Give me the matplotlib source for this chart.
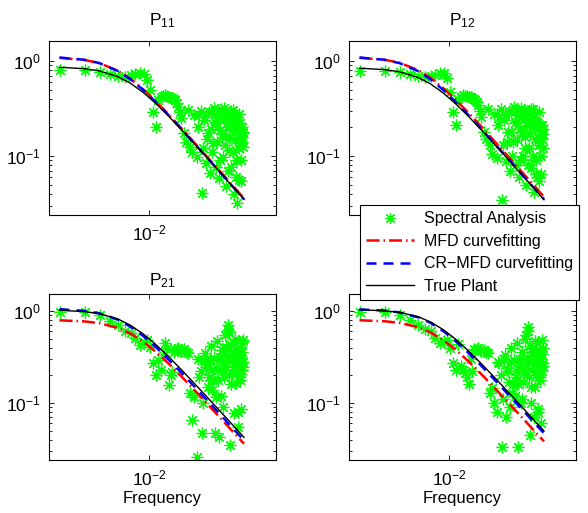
import matplotlib
matplotlib.use('Agg')
import matplotlib.pyplot as plt
from matplotlib.lines import Line2D
from matplotlib.ticker import NullLocator, NullFormatter, FixedLocator, LogLocator

plt.rcParams['font.family'] = ['Liberation Sans', 'DejaVu Sans']
plt.rcParams['mathtext.fontset'] = 'custom'
plt.rcParams['mathtext.rm'] = 'Liberation Sans'
plt.rcParams['mathtext.it'] = 'Liberation Sans:italic'
plt.rcParams['mathtext.bf'] = 'Liberation Sans:bold'
plt.rcParams['mathtext.sf'] = 'Liberation Sans'

# ---------------- data ----------------
titles = ['P$_{11}$', 'P$_{12}$', 'P$_{21}$', 'P$_{22}$']
legend_labels = ['Spectral Analysis', 'MFD curvefitting', 'CR\u2212MFD curvefitting', 'True Plant']
xlabel_text = 'Frequency'

freq_sa = [0.00085, 0.0017, 0.00255, 0.0034, 0.00425, 0.0051, 0.00595, 0.0068, 0.00765, 0.0085,
           0.00935, 0.0102, 0.01105, 0.0119, 0.01275, 0.0136, 0.0153, 0.017, 0.0187, 0.0204,
           0.0221, 0.0238, 0.0255, 0.0272, 0.0289, 0.0306, 0.0323, 0.034, 0.03655, 0.0391,
           0.04165, 0.0442, 0.04675, 0.0493, 0.05185, 0.0544, 0.05695, 0.0595, 0.06205, 0.0646,
           0.06715, 0.0697, 0.07225, 0.0748, 0.07735, 0.0799, 0.08245, 0.085, 0.08755, 0.0901,
           0.09265, 0.0952, 0.09775, 0.1003, 0.10285, 0.1054, 0.10795, 0.1105, 0.11305, 0.1156,
           0.11815, 0.1207, 0.12325, 0.1258, 0.12835, 0.1309,
           0.01445, 0.01615, 0.01785, 0.01955, 0.02125, 0.02295,
           0.03825, 0.0408, 0.04335, 0.0459, 0.04845, 0.051, 0.05355, 0.0561, 0.05865, 0.0612,
           0.06375, 0.0663, 0.06885, 0.0714, 0.07395, 0.0765, 0.07905, 0.0816, 0.08415, 0.0867,
           0.08925, 0.0918, 0.09435, 0.0969, 0.09945, 0.102, 0.10455, 0.1071, 0.10965, 0.1122,
           0.11475, 0.1173, 0.11985, 0.1224, 0.12495, 0.1275, 0.13005]

sa_11 = [0.80, 0.80, 0.77, 0.73, 0.695, 0.684, 0.706, 0.73, 0.75, 0.73, 0.63, 0.49, 0.29, 0.20, 0.39, 0.415,
         0.44, 0.42, 0.405, 0.39, 0.33, 0.25, 0.173, 0.142, 0.305, 0.125, 0.111, 0.27,
         0.098, 0.27, 0.041, 0.24, 0.084, 0.173, 0.066, 0.293, 0.136, 0.23, 0.077, 0.28, 0.059, 0.188,
         0.26, 0.098, 0.318, 0.16, 0.048, 0.24, 0.116, 0.28, 0.077, 0.204, 0.305, 0.040, 0.147, 0.24,
         0.091, 0.032, 0.188, 0.056, 0.136, 0.221, 0.054, 0.16, 0.125, 0.173,
         0.43, 0.43, 0.41, 0.40, 0.36, 0.29,
         0.20, 0.30, 0.12, 0.26, 0.15, 0.29, 0.19, 0.11, 0.32, 0.22, 0.14, 0.26, 0.09, 0.31, 0.17, 0.24,
         0.13, 0.28, 0.20, 0.07, 0.26, 0.16, 0.30, 0.21, 0.11, 0.25, 0.18, 0.06, 0.22, 0.15, 0.28, 0.12,
         0.19, 0.09, 0.20, 0.14, 0.18]
sa_12 = [0.79, 0.78, 0.76, 0.73, 0.70, 0.68, 0.70, 0.72, 0.74, 0.75, 0.66, 0.47, 0.29, 0.21, 0.40, 0.42,
         0.43, 0.42, 0.41, 0.39, 0.34, 0.26, 0.18, 0.15, 0.31, 0.13, 0.105, 0.28,
         0.095, 0.26, 0.034, 0.24, 0.088, 0.18, 0.07, 0.29, 0.14, 0.22, 0.08, 0.30, 0.06, 0.19,
         0.26, 0.10, 0.30, 0.16, 0.05, 0.23, 0.12, 0.27, 0.075, 0.20, 0.31, 0.042, 0.15, 0.23,
         0.09, 0.06, 0.19, 0.055, 0.14, 0.21, 0.065, 0.17, 0.12, 0.17,
         0.44, 0.43, 0.42, 0.40, 0.37, 0.30,
         0.21, 0.31, 0.13, 0.27, 0.14, 0.30, 0.18, 0.10, 0.33, 0.23, 0.15, 0.27, 0.09, 0.32, 0.18, 0.25,
         0.12, 0.29, 0.21, 0.08, 0.27, 0.17, 0.31, 0.22, 0.10, 0.26, 0.19, 0.065, 0.23, 0.16, 0.29, 0.13,
         0.20, 0.10, 0.21, 0.15, 0.19]
sa_21 = [0.967, 0.983, 0.905, 0.785, 0.705, 0.611, 0.58, 0.505, 0.427, 0.464, 0.484, 0.403, 0.27, 0.201, 0.293, 0.228,
         0.445, 0.157, 0.219, 0.377, 0.393, 0.37, 0.383, 0.36, 0.347, 0.127, 0.065, 0.117,
         0.026, 0.193, 0.047, 0.293, 0.249, 0.15, 0.293, 0.228, 0.178, 0.047, 0.117, 0.228, 0.043, 0.319,
         0.377, 0.091, 0.193, 0.249, 0.41, 0.705, 0.596, 0.035, 0.293, 0.21, 0.347, 0.077, 0.228, 0.445,
         0.164, 0.319, 0.055, 0.41, 0.178, 0.293, 0.087, 0.464, 0.249, 0.484,
         0.33, 0.40, 0.20, 0.36, 0.39, 0.38,
         0.30, 0.22, 0.10, 0.35, 0.26, 0.19, 0.42, 0.14, 0.31, 0.24, 0.47, 0.18, 0.29, 0.12, 0.38, 0.22,
         0.55, 0.27, 0.33, 0.62, 0.20, 0.44, 0.16, 0.30, 0.37, 0.25, 0.50, 0.21, 0.34, 0.08, 0.27, 0.40,
         0.19, 0.31, 0.23, 0.36, 0.28]
sa_22 = [0.98, 0.98, 0.90, 0.80, 0.71, 0.63, 0.60, 0.51, 0.45, 0.47, 0.48, 0.40, 0.27, 0.23, 0.44, 0.25,
         0.21, 0.16, 0.22, 0.38, 0.40, 0.37, 0.38, 0.36, 0.35, 0.13, 0.145, 0.10,
         0.08, 0.27, 0.033, 0.30, 0.07, 0.22, 0.09, 0.28, 0.16, 0.12, 0.19, 0.033, 0.25, 0.30,
         0.11, 0.17, 0.23, 0.23, 0.55, 0.67, 0.28, 0.045, 0.10, 0.33, 0.40, 0.07, 0.24, 0.15,
         0.30, 0.45, 0.085, 0.35, 0.19, 0.28, 0.06, 0.48, 0.25, 0.40,
         0.23, 0.19, 0.30, 0.39, 0.39, 0.38,
         0.28, 0.20, 0.11, 0.33, 0.24, 0.17, 0.40, 0.13, 0.29, 0.22, 0.45, 0.16, 0.27, 0.10, 0.36, 0.21,
         0.50, 0.26, 0.31, 0.60, 0.19, 0.42, 0.15, 0.28, 0.35, 0.24, 0.47, 0.20, 0.32, 0.08, 0.26, 0.38,
         0.18, 0.30, 0.22, 0.34, 0.27]

freq_fit = [0.00085, 0.0017, 0.00255, 0.00425, 0.00595, 0.0085, 0.0119, 0.017, 0.0238, 0.034,
            0.0476, 0.068, 0.0935, 0.13345]

true_11 = [0.859, 0.829, 0.785, 0.681, 0.582, 0.464, 0.357, 0.261, 0.191, 0.135, 0.0973, 0.0683, 0.0497, 0.0349]
crmfd_11 = [1.088, 1.029, 0.949, 0.781, 0.641, 0.492, 0.370, 0.267, 0.193, 0.136, 0.0977, 0.0686, 0.0499, 0.0350]
mfd_11 = [1.079, 1.024, 0.948, 0.786, 0.648, 0.500, 0.376, 0.272, 0.197, 0.139, 0.0998, 0.070, 0.0510, 0.0357]

true_12 = [0.840, 0.811, 0.770, 0.670, 0.574, 0.458, 0.353, 0.259, 0.189, 0.1343, 0.0965, 0.0678, 0.0494, 0.0346]
crmfd_12 = [1.088, 1.029, 0.949, 0.781, 0.641, 0.492, 0.370, 0.267, 0.193, 0.136, 0.0977, 0.0686, 0.0499, 0.0350]
mfd_12 = [1.081, 1.029, 0.957, 0.800, 0.664, 0.515, 0.389, 0.282, 0.205, 0.1445, 0.1037, 0.0727, 0.0529, 0.0371]

true_21 = [1.018, 0.984, 0.934, 0.815, 0.699, 0.559, 0.432, 0.317, 0.2315, 0.1642, 0.1180, 0.0829, 0.0604, 0.0423]
crmfd_21 = [1.045, 1.002, 0.942, 0.803, 0.676, 0.532, 0.406, 0.295, 0.215, 0.1521, 0.1092, 0.0766, 0.0558, 0.0391]
mfd_21 = [0.792, 0.770, 0.736, 0.653, 0.569, 0.462, 0.361, 0.267, 0.196, 0.1392, 0.1002, 0.0704, 0.0513, 0.0360]

true_22 = [1.031, 1.005, 0.966, 0.865, 0.760, 0.624, 0.491, 0.365, 0.269, 0.1917, 0.1381, 0.0971, 0.0707, 0.0496]
crmfd_22 = [1.039, 1.010, 0.965, 0.854, 0.742, 0.602, 0.470, 0.347, 0.255, 0.181, 0.1302, 0.0915, 0.0667, 0.0468]
mfd_22 = [0.793, 0.773, 0.743, 0.666, 0.585, 0.480, 0.378, 0.281, 0.207, 0.1474, 0.1062, 0.0747, 0.0544, 0.0382]

x_ticks = [1e-2]
y_ticks = [0.1, 1.0]

# ---------------- layout / style ----------------
W, H = 588, 513
fig = plt.figure(figsize=(W / 100, H / 100), dpi=100)

def fr(l, t, r, b):
    return [l / W, 1 - b / H, (r - l) / W, (b - t) / H]

panels = [
    dict(rect=fr(49, 41, 276, 215), ylim=(0.0239, 1.624), sa=sa_11, tr=true_11, cr=crmfd_11, mf=mfd_11, pad=11, xl=False),
    dict(rect=fr(349, 41, 576, 215), ylim=(0.0239, 1.624), sa=sa_12, tr=true_12, cr=crmfd_12, mf=mfd_12, pad=11, xl=False),
    dict(rect=fr(49, 294, 276, 460), ylim=(0.024, 1.53), sa=sa_21, tr=true_21, cr=crmfd_21, mf=mfd_21, pad=6, xl=True),
    dict(rect=fr(349, 294, 576, 460), ylim=(0.024, 1.53), sa=sa_22, tr=true_22, cr=crmfd_22, mf=mfd_22, pad=6, xl=True),
]

GREEN = (0, 1, 0)
star = (8, 2, 0)
MFD_DASH = [5.2, 1.6, 0.6, 1.6]
CR_DASH = [4.0, 2.8]
TICK_FS = 12.5

for p, title in zip(panels, titles):
    ax = fig.add_axes(p['rect'])
    ax.set_xscale('log')
    ax.set_yscale('log')
    ax.plot(freq_sa, p['sa'], ls='none', marker=star, color=GREEN, ms=8.5, mew=0.9)
    ax.plot(freq_fit, p['mf'], color='r', lw=1.8, dashes=MFD_DASH)
    ax.plot(freq_fit, p['cr'], color='b', lw=1.8, dashes=CR_DASH)
    ax.plot(freq_fit, p['tr'], color='k', lw=1.0)
    ax.set_xlim(0.000637, 0.3206)
    ax.set_ylim(*p['ylim'])
    ax.xaxis.set_major_locator(FixedLocator(x_ticks))
    ax.xaxis.set_minor_locator(NullLocator())
    ax.yaxis.set_major_locator(FixedLocator(y_ticks))
    ax.yaxis.set_minor_locator(LogLocator(base=10, subs=[2, 3, 4, 5, 6, 7, 8, 9]))
    ax.yaxis.set_minor_formatter(NullFormatter())
    ax.tick_params(which='both', direction='in', top=True, right=True, width=0.6, labelsize=TICK_FS)
    ax.tick_params(which='major', length=3.5)
    ax.tick_params(which='minor', length=2)
    ax.tick_params(axis='x', pad=6)
    ax.tick_params(axis='y', pad=6)
    for s in ax.spines.values():
        s.set_linewidth(0.8)
    ax.set_title(title, fontsize=12.5, pad=p['pad'])
    if p['xl']:
        ax.set_xlabel(xlabel_text, fontsize=12, labelpad=2)

handles = [
    Line2D([], [], ls='none', marker=star, color=GREEN, ms=8, mew=0.9),
    Line2D([], [], color='r', lw=1.8, dashes=MFD_DASH),
    Line2D([], [], color='b', lw=1.8, dashes=CR_DASH),
    Line2D([], [], color='k', lw=1.0),
]
leg = fig.legend(handles, legend_labels, loc='upper left', bbox_to_anchor=(360 / W, 1 - 205 / H),
                 fontsize=11.5, frameon=True, fancybox=False, edgecolor='k', framealpha=1,
                 handlelength=3.0, handletextpad=0.6, borderpad=0.4, labelspacing=0.47,
                 numpoints=1, borderaxespad=0)
leg.get_frame().set_linewidth(0.8)

fig.savefig('out.png', dpi=100)
